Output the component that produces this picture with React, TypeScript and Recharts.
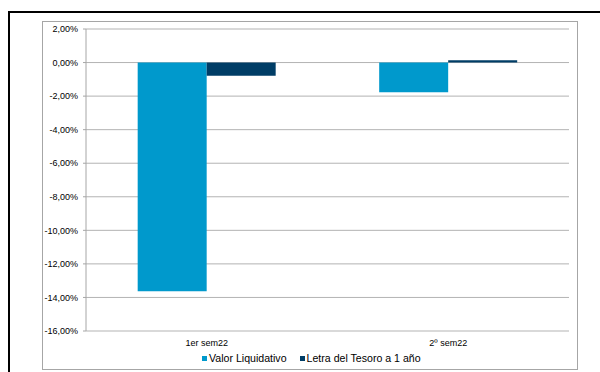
import React from "react";
import { BarChart, Bar, XAxis, YAxis, CartesianGrid } from "recharts";

const categories = ["1er sem22", "2º sem22"];
const valorLiquidativo = [-13.63, -1.77];
const letraTesoro = [-0.78, 0.14];
const yTicks = [-16, -14, -12, -10, -8, -6, -4, -2, 0, 2];

const data = categories.map((c, i) => ({
  name: c,
  valor: valorLiquidativo[i],
  letra: letraTesoro[i],
}));

const BLUE = "#0099CC";
const NAVY = "#003D66";
const FONT = "'Liberation Sans', Arial, sans-serif";

const fmt = (v: number) => v.toFixed(2).replace(".", ",") + "%";

export default function App() {
  return (
    <div style={{ position: "absolute", left: 0, top: 0, width: 600, height: 372, overflow: "hidden", background: "#fff" }}>
      <div
        style={{
          position: "absolute",
          left: 8,
          top: 11,
          width: 640,
          height: 420,
          border: "2px solid #000",
          boxSizing: "border-box",
        }}
      />
      <div
        style={{
          position: "absolute",
          left: 42,
          top: 21,
          width: 536,
          height: 349,
          border: "1px solid #a6a6a6",
          boxSizing: "border-box",
        }}
      />
      <div style={{ position: "absolute", left: 0, top: 0 }}>
        <BarChart
          width={600}
          height={372}
          data={data}
          margin={{ top: 29, right: 31, left: 46, bottom: 21 }}
          barCategoryGap="21.4%"
          barGap={0}
        >
          <CartesianGrid horizontal={true} vertical={false} stroke="#b3b3b3" strokeWidth={1} />
          <XAxis
            dataKey="name"
            axisLine={false}
            tickLine={false}
            height={20}
            tick={{ fontFamily: FONT, fontSize: 9, fill: "#000" }}
            tickMargin={3}
          />
          <YAxis
            width={40}
            domain={[-16, 2]}
            ticks={yTicks}
            interval={0}
            tickFormatter={fmt}
            axisLine={{ stroke: "#a6a6a6" }}
            tickLine={{ stroke: "#a6a6a6" }}
            tickSize={3}
            tickMargin={5}
            tick={{ fontFamily: FONT, fontSize: 9, fill: "#000" }}
          />
          <Bar dataKey="valor" fill={BLUE} isAnimationActive={false} />
          <Bar dataKey="letra" fill={NAVY} isAnimationActive={false} />
        </BarChart>
      </div>
      <div
        style={{
          position: "absolute",
          left: 202,
          top: 352,
          display: "flex",
          alignItems: "center",
          fontFamily: FONT,
          fontSize: 10.6,
          color: "#000",
          whiteSpace: "nowrap",
        }}
      >
        <span style={{ width: 5, height: 5, background: BLUE, display: "inline-block", marginRight: 2 }} />
        <span style={{ marginRight: 13 }}>Valor Liquidativo</span>
        <span style={{ width: 5, height: 5, background: NAVY, display: "inline-block", marginRight: 2 }} />
        <span>Letra del Tesoro a 1 año</span>
      </div>
    </div>
  );
}
